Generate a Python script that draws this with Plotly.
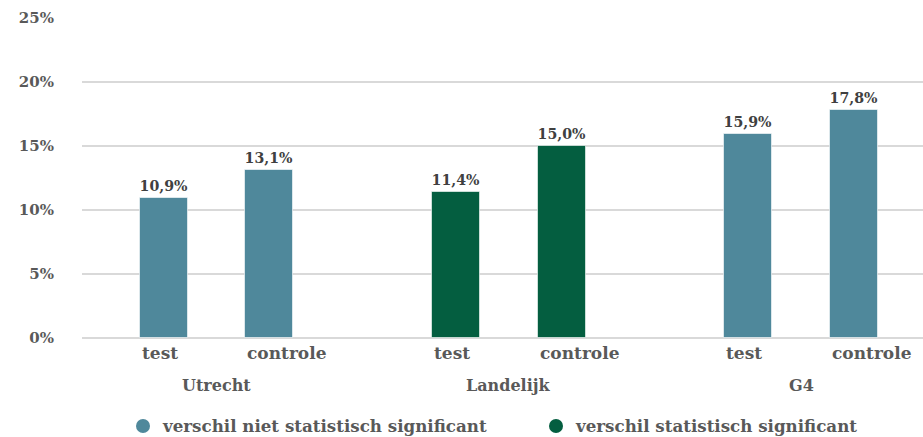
import plotly.graph_objects as go

# ---- data ----
groups = ["Utrecht", "Landelijk", "G4"]
conditions = ["test", "controle"]
utrecht_values = [10.9, 13.1]
landelijk_values = [11.4, 15.0]
g4_values = [15.9, 17.8]
group_significant = [False, True, False]
legend_labels = ["verschil niet statistisch significant", "verschil statistisch significant"]
y_ticks = [0, 5, 10, 15, 20, 25]

values_by_group = [utrecht_values, landelijk_values, g4_values]

# ---- style ----
TEAL = "#4f889b"
GREEN = "#045e40"
GRID = "#d9d9d9"
TEXT = "#404040"
AXIS_TEXT = "#595959"
FONT = "DejaVu Serif"
GROUP_STEP = 2.77
BAR_W = 0.455

def fmt(v):
    return f"{v:.1f}%".replace(".", ",")

series = {False: {"x": [], "y": [], "t": []}, True: {"x": [], "y": [], "t": []}}
cond_pos, cond_text, group_centers = [], [], []
for gi, (g, vals, sig) in enumerate(zip(groups, values_by_group, group_significant)):
    xs = [gi * GROUP_STEP + ci for ci in range(len(conditions))]
    group_centers.append(sum(xs) / len(xs))
    for x, c, v in zip(xs, conditions, vals):
        series[sig]["x"].append(x)
        series[sig]["y"].append(v)
        series[sig]["t"].append(fmt(v))
        cond_pos.append(x)
        cond_text.append(c)

fig = go.Figure()
for sig, color in [(False, TEAL), (True, GREEN)]:
    s = series[sig]
    fig.add_trace(go.Bar(
        x=s["x"], y=s["y"], text=s["t"], width=BAR_W,
        marker=dict(color=color, line=dict(color="rgba(255,255,255,0.6)", width=1)),
        textposition="outside", cliponaxis=False,
        textfont=dict(family=FONT, size=15, color=TEXT, weight="bold"),
        showlegend=False, hoverinfo="skip",
    ))

for i, (label, color) in enumerate(zip(legend_labels, [TEAL, GREEN])):
    fig.add_trace(go.Scatter(
        x=[None], y=[None], mode="markers", name=label,
        marker=dict(symbol="circle", size=14, color=color),
        legend="legend" if i == 0 else "legend2",
    ))

# category labels, aligned with the left edge of each bar
for x, c in zip(cond_pos, cond_text):
    fig.add_annotation(
        x=x - BAR_W / 2, y=0, xref="x", yref="paper",
        xanchor="left", yanchor="middle", yshift=-15,
        text=c, showarrow=False,
        font=dict(family=FONT, size=17, color=AXIS_TEXT, weight="bold"),
    )

for gx, g in zip(group_centers, groups):
    fig.add_annotation(
        x=gx, y=0, xref="x", yref="paper", yanchor="middle", yshift=-47,
        text=g, showarrow=False,
        font=dict(family=FONT, size=16, color=AXIS_TEXT, weight="bold"),
    )

legend_font = dict(family=FONT, size=16.7, color=AXIS_TEXT, weight="bold")
fig.update_layout(
    width=923, height=437,
    margin=dict(l=82, r=0, t=18, b=99),
    paper_bgcolor="white", plot_bgcolor="white",
    bargap=0,
    xaxis=dict(
        range=[-0.777, 7.194], showticklabels=False,
        showgrid=False, zeroline=False, showline=False, ticks="",
    ),
    yaxis=dict(
        range=[0, 25], tickvals=y_ticks, ticktext=[f"{t}%" for t in y_ticks],
        showgrid=True, gridcolor=GRID, gridwidth=2,
        zeroline=True, zerolinecolor=GRID, zerolinewidth=2,
        showline=False, ticks="",
        tickfont=dict(family=FONT, size=15, color=AXIS_TEXT, weight="bold"),
        ticklabelstandoff=27,
    ),
    legend=dict(
        orientation="h", x=123 / 923, xref="container", xanchor="left",
        y=0.025, yref="container", yanchor="middle",
        font=legend_font, bgcolor="rgba(0,0,0,0)",
    ),
    legend2=dict(
        orientation="h", x=536 / 923, xref="container", xanchor="left",
        y=0.025, yref="container", yanchor="middle",
        font=legend_font, bgcolor="rgba(0,0,0,0)",
    ),
)

fig.write_html("out.html")
